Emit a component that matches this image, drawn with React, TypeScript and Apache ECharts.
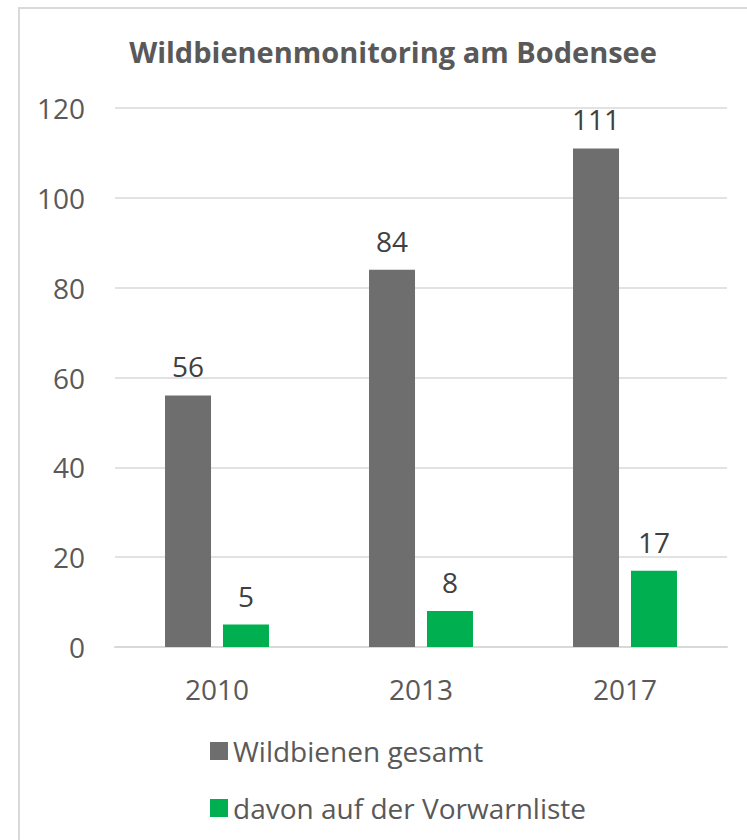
import React, { useEffect, useRef } from "react";
import * as echarts from "echarts";

const categories = ["2010", "2013", "2017"];
const seriesNames = ["Wildbienen gesamt", "davon auf der Vorwarnliste"];
const totalValues = [56, 84, 111];
const warnValues = [5, 8, 17];
const yTicks = { min: 0, max: 120, interval: 20 };
const titleText = "Wildbienenmonitoring am Bodensee";

export default function App() {
  const ref = useRef<HTMLDivElement>(null);
  useEffect(() => {
    document.body.style.margin = "0";
    const chart = echarts.init(ref.current!, null, { renderer: "svg" });
    const font = "'Open Sans', 'Liberation Sans', sans-serif";
    chart.setOption({
      animation: false,
      backgroundColor: "#ffffff",
      textStyle: { fontFamily: font },
      graphic: [
        {
          type: "rect",
          shape: { x: 19, y: 8, width: 800, height: 900 },
          style: { fill: "none", stroke: "#d9d9d9", lineWidth: 2 },
          silent: true,
        },
      ],
      title: {
        text: titleText,
        left: 388,
        top: 32,
        textAlign: "center",
        textStyle: { fontFamily: font, fontSize: 29, fontWeight: "bold", color: "#595959" },
      },
      grid: { left: 115, right: 20, top: 108, bottom: 193, containLabel: false },
      legend: {
        orient: "vertical",
        left: 205,
        top: 732,
        itemWidth: 18,
        itemHeight: 18,
        itemGap: 29,
        icon: "rect",
        textStyle: { fontFamily: font, fontSize: 28, color: "#595959", padding: [0, 0, 0, 0] },
        data: seriesNames,
      },
      xAxis: {
        type: "category",
        data: categories,
        axisLine: { lineStyle: { color: "#d9d9d9", width: 2 } },
        axisTick: { show: false },
        axisLabel: { fontFamily: font, fontSize: 28, color: "#595959", margin: 28 },
      },
      yAxis: {
        type: "value",
        min: yTicks.min,
        max: yTicks.max,
        interval: yTicks.interval,
        axisLine: { show: false },
        axisTick: { show: false },
        splitLine: { lineStyle: { color: "#d9d9d9", width: 1.5 } },
        axisLabel: { fontFamily: font, fontSize: 28, color: "#595959", margin: 30 },
      },
      series: [
        {
          name: seriesNames[0],
          type: "bar",
          data: totalValues,
          barWidth: 46,
          barGap: "26%",
          itemStyle: { color: "#6e6e6e" },
          label: { show: true, position: "top", distance: 15, fontFamily: font, fontSize: 28, color: "#404040" },
        },
        {
          name: seriesNames[1],
          type: "bar",
          data: warnValues,
          barWidth: 46,
          barGap: "26%",
          itemStyle: { color: "#00b050" },
          label: { show: true, position: "top", distance: 15, fontFamily: font, fontSize: 28, color: "#404040" },
        },
      ],
    });
    return () => chart.dispose();
  }, []);
  return <div ref={ref} style={{ width: 747, height: 840 }} />;
}
